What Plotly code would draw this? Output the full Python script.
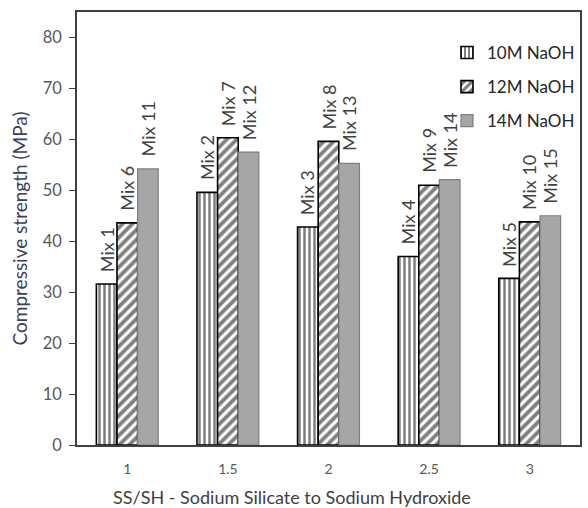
import plotly.graph_objects as go

categories = ["1", "1.5", "2", "2.5", "3"]
series_names = ["10M NaOH", "12M NaOH", "14M NaOH"]
naoh_10m = [31.6, 49.6, 42.8, 37.0, 32.7]
naoh_12m = [43.6, 60.3, 59.6, 51.0, 43.8]
naoh_14m = [54.2, 57.5, 55.3, 52.1, 45.0]
labels_10m = ["Mix 1", "Mix 2", "Mix 3", "Mix 4", "Mix 5"]
labels_12m = ["Mix 6", "Mix 7", "Mix 8", "Mix 9", "Mix 10"]
labels_14m = ["Mix 11", "Mix 12", "Mix 13", "Mix 14", "Mix 15"]
y_ticks = [0, 10, 20, 30, 40, 50, 60, 70, 80]

FONT = "Lato"
TXT = "#404040"

styles = [
    dict(pattern=dict(shape="|", fgcolor="black", bgcolor="white", size=5, solidity=0.5),
         color="white", line=dict(color="black", width=1.6)),
    dict(pattern=dict(shape="/", fgcolor="black", bgcolor="white", size=7, solidity=0.55),
         color="white", line=dict(color="black", width=1.6)),
    dict(color="#a6a6a6", line=dict(color="#7f7f7f", width=1.2)),
]

BARGAP = 0.385
fig = go.Figure()
all_vals = [naoh_10m, naoh_12m, naoh_14m]
all_labels = [labels_10m, labels_12m, labels_14m]
for name, vals, st in zip(series_names, all_vals, styles):
    fig.add_trace(go.Bar(x=categories, y=vals, name=name, legendgroup=name, marker=st))

# label annotations above each bar (offset to the bar's slot within the group)
plot_w = 588 - 77 - 6
slot = plot_w / len(categories) * (1 - BARGAP) / 3
for si, (vals, labs) in enumerate(zip(all_vals, all_labels)):
    for ci, (v, lab) in enumerate(zip(vals, labs)):
        fig.add_annotation(x=ci, y=v, text=lab, showarrow=False, textangle=-90,
                           xanchor="center", yanchor="bottom",
                           xshift=(si - 1) * slot, yshift=10,
                           font=dict(family=FONT, size=18, color=TXT))

fig.add_annotation(x=0.428, xref="paper", y=-0.09, yref="paper",
                   text="SS/SH - Sodium Silicate to Sodium Hydroxide", showarrow=False,
                   xanchor="center", yanchor="top",
                   font=dict(family=FONT, size=18, color=TXT))

fig.update_layout(
    width=588, height=508,
    margin=dict(l=77, r=6, t=12, b=63),
    paper_bgcolor="white", plot_bgcolor="white",
    barmode="group", bargap=BARGAP, bargroupgap=0,
    font=dict(family=FONT, color=TXT),
    showlegend=True,
    legend=dict(x=1, xanchor="right", y=0.947, yanchor="top",
                font=dict(family=FONT, size=17, color="#262626"),
                tracegroupgap=9, itemwidth=30, bgcolor="rgba(0,0,0,0)"),
    xaxis=dict(type="category", showline=True, linecolor="#404040", linewidth=1.5,
               mirror=True, ticks="", showgrid=False, ticklabelstandoff=10,
               tickfont=dict(family=FONT, size=14, color="#595959")),
    yaxis=dict(range=[0, 85], tickvals=y_ticks, showline=True, linecolor="#404040",
               linewidth=1.5, mirror=True, ticks="outside", ticklen=6, tickcolor="#404040",
               showgrid=False, zeroline=False, ticklabelstandoff=4,
               tickfont=dict(family=FONT, size=16.5, color="#595959"),
               title=dict(text="Compressive strength (MPa)",
                          font=dict(family=FONT, size=19, color="#3a3f5c"), standoff=10)),
)

fig.write_html("out.html")
